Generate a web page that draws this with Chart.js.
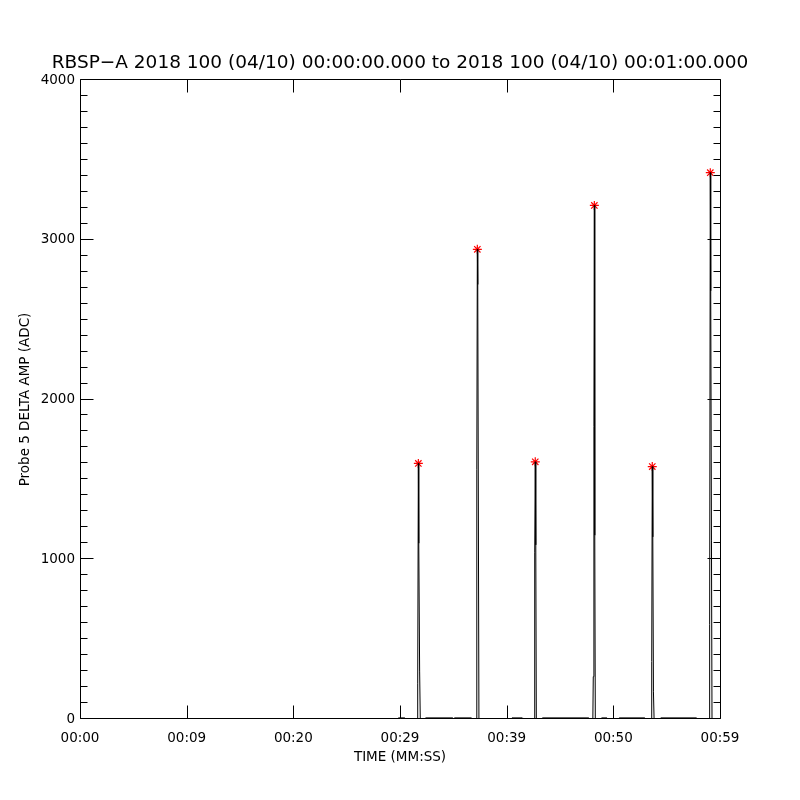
<!DOCTYPE html>
<html>
<head>
<meta charset="utf-8">
<script src="https://cdn.jsdelivr.net/npm/chart.js@4.4.1/dist/chart.umd.min.js"></script>
<style>
  body { margin: 0; background: #fff; }
  canvas { display: block; }
</style>
</head>
<body>
<canvas id="ampChart" width="800" height="800"></canvas>
<script>
// Time in seconds after 00:00:00
const timeSec = [
    0.00, 29.80, 29.85, 30.45, 30.50,
    31.60, 31.66, 31.72, 31.76, 31.84, 31.90,
    32.35, 32.40, 34.95, 35.00, 35.10, 36.70, 36.75,
    37.16, 37.20, 37.25, 37.29, 37.40,
    40.45, 40.50, 41.45, 41.50,
    42.58, 42.63, 42.68, 42.73, 42.78,
    43.30, 43.35, 47.70, 47.75,
    48.08, 48.12, 48.18, 48.22, 48.26, 48.31,
    48.85, 48.90, 49.40, 49.45,
    50.50, 50.55, 52.95, 53.00,
    53.55, 53.60, 53.65, 53.70, 53.76, 53.82,
    54.40, 54.45, 57.80, 57.85,
    58.98, 59.03, 59.09, 59.13, 59.20, 59.25,
    60.00
];
const deltaAmp = [
    0, 0, 7, 7, 0,
    0, 220, 1600, 1100, 300, 0,
    0, 7, 7, 0, 7, 7, 0,
    0, 1560, 2940, 2720, 0,
    0, 7, 7, 0,
    0, 1040, 1610, 1090, 0,
    0, 7, 7, 0,
    0, 265, 1830, 3215, 1150, 0,
    0, 7, 7, 0,
    0, 7, 7, 0,
    0, 360, 1580, 1140, 170, 0,
    0, 7, 7, 0,
    0, 590, 3420, 2680, 1120, 0,
    0
];

// Peaks marked with red asterisks
const peakTimes = [31.72, 37.25, 42.68, 48.22, 53.65, 59.09];
const peakValues = [1600, 2940, 1610, 3215, 1580, 3420];

const xTickLabels = ['00:00', '00:09', '00:20', '00:29', '00:39', '00:50', '00:59'];

const font = 'DejaVu Sans';

// IDL style frame: box with ticks pointing inwards on all four sides
const frameTicks = {
    id: 'frameTicks',
    afterDatasetsDraw(chart) {
        const { ctx, chartArea: a, scales: { x, y } } = chart;
        const L = Math.round(a.left) + 0.5, R = Math.round(a.right) + 0.5;
        const T = Math.round(a.top) - 0.5, B = Math.round(a.bottom) - 0.5;
        ctx.save();
        ctx.strokeStyle = '#000';
        ctx.lineWidth = 1;
        ctx.beginPath();
        ctx.rect(L, T, R - L, B - T);
        for (let v = 0; v <= 4000; v += 100) {
            const py = Math.round(y.getPixelForValue(v)) - 0.5;
            const len = v % 1000 === 0 ? 13 : 7;
            ctx.moveTo(L, py); ctx.lineTo(L + len, py);
            ctx.moveTo(R, py); ctx.lineTo(R - len, py);
        }
        for (let t = 0; t <= 60; t += 10) {
            const px = Math.round(x.getPixelForValue(t)) + 0.5;
            ctx.moveTo(px, B); ctx.lineTo(px, B - 13);
            ctx.moveTo(px, T); ctx.lineTo(px, T + 13);
        }
        ctx.stroke();
        ctx.restore();
    }
};

const ctx = document.getElementById('ampChart').getContext('2d');
const ampChart = new Chart(ctx, {
    type: 'line',
    data: {
        datasets: [{
            label: 'Probe 5 delta amp',
            data: timeSec.map((t, i) => ({ x: t, y: deltaAmp[i] })),
            borderColor: '#000',
            borderWidth: 1,
            pointRadius: 0,
            tension: 0,
            fill: false
        }, {
            label: 'Peaks',
            data: peakTimes.map((t, i) => ({ x: t, y: peakValues[i] })),
            showLine: false,
            pointStyle: 'star',
            pointRadius: 4.5,
            pointBorderColor: '#ff0000',
            pointBorderWidth: 1.2,
            borderColor: '#ff0000'
        }]
    },
    options: {
        responsive: false,
        animation: false,
        devicePixelRatio: 1,
        layout: { padding: 0 },
        plugins: {
            legend: { display: false },
            tooltip: { enabled: false },
            title: {
                display: true,
                text: 'RBSP\u2212A 2018 100 (04/10) 00:00:00.000 to 2018 100 (04/10) 00:01:00.000',
                color: '#000',
                font: { family: font, size: 18.5, weight: 'normal' },
                padding: { top: 52, bottom: 5.8 }
            }
        },
        scales: {
            x: {
                type: 'linear',
                min: 0,
                max: 60,
                grid: { display: false, drawTicks: false },
                border: { display: false },
                ticks: {
                    stepSize: 10,
                    color: '#000',
                    padding: 11,
                    maxRotation: 0,
                    font: { family: font, size: 13.5 },
                    callback: (value, index) => xTickLabels[index]
                },
                title: {
                    display: true,
                    text: 'TIME (MM:SS)',
                    color: '#000',
                    font: { family: font, size: 13.5 },
                    padding: { top: 0, bottom: 34 }
                },
                afterFit: (scale) => { scale.height = 81; }
            },
            y: {
                min: 0,
                max: 4000,
                grid: { display: false, drawTicks: false },
                border: { display: false },
                ticks: {
                    stepSize: 1000,
                    color: '#000',
                    padding: 5,
                    font: { family: font, size: 13.5 },
                    callback: (value) => String(value)
                },
                title: {
                    display: true,
                    text: 'Probe 5 DELTA AMP (ADC)',
                    color: '#000',
                    font: { family: font, size: 13.5 },
                    padding: { top: 17, bottom: 0 }
                },
                afterFit: (scale) => { scale.width = 80; }
            },
            // empty right margin, so the title centres on the page
            yRight: {
                position: 'right',
                min: 0,
                max: 4000,
                grid: { display: false, drawTicks: false },
                border: { display: false },
                ticks: { display: false },
                afterFit: (scale) => { scale.width = 80; }
            }
        }
    },
    plugins: [frameTicks]
});
</script>
</body>
</html>
